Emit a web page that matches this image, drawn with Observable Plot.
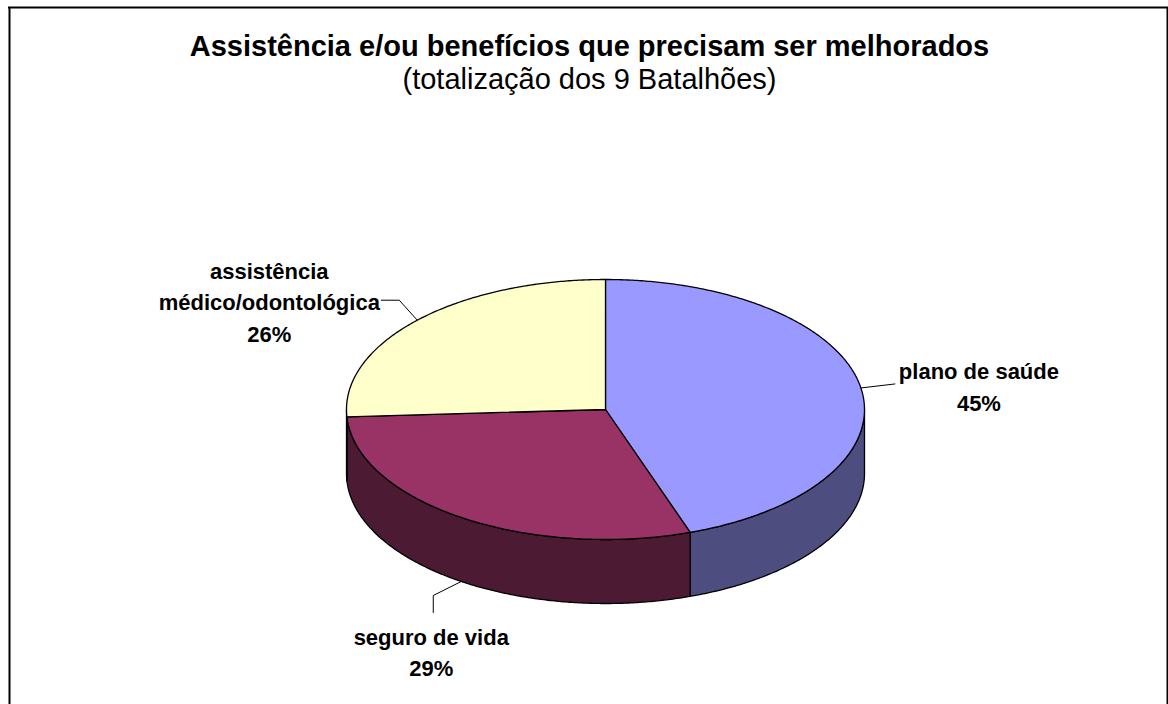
<!DOCTYPE html>
<html>
<head>
<meta charset="utf-8">
<script src="https://cdn.jsdelivr.net/npm/d3@7"></script>
<script src="https://cdn.jsdelivr.net/npm/@observablehq/plot@0.6"></script>
<style>
  html, body { margin: 0; padding: 0; background: #fff; }
  #chart svg { display: block; }
</style>
</head>
<body>
<div id="chart"></div>
<script>
// ---- data ----
const categories = ["plano de saúde", "seguro de vida", "assistência médico/odontológica"];
const values = [44.7, 29.4, 25.9];
const labelNames = ["plano de saúde", "seguro de vida", "assistência\nmédico/odontológica"];
const topColors = ["#9999FF", "#993366", "#FFFFCC"];
const sideColors = ["#4D4D80", "#4D1A33", "#808066"];
const titleText = "Assistência e/ou benefícios que precisam ser melhorados";
const subtitleText = "(totalização dos 9 Batalhões)";

// ---- layout ----
const W = 1168, H = 704;
const pie = {cx: 605, cy: 409, rx: 259, ry: 130, depth: 64};
// leader path offsets (from rim point at slice mid-angle) and label centre offsets
const labelLayout = [
  {leader: [[0, 0], [34, -4]], label: [118, -3]},
  {leader: [[0, 0], [-28, 14], [-28, 31]], label: [-30, 69]},
  {leader: [[0, 0], [-18, -20], [-36, -20]], label: [-148, -20]}
];
const font = "'Liberation Sans', Arial, Helvetica, sans-serif";

const total = d3.sum(values);
const px = a => pie.cx + pie.rx * Math.sin(a);
const py = a => pie.cy - pie.ry * Math.cos(a);
function arcPts(a0, a1, dy = 0) {
  const n = Math.max(2, Math.ceil((a1 - a0) / (Math.PI / 360)));
  return d3.range(n + 1).map(k => {
    const a = a0 + (a1 - a0) * k / n;
    return {x: px(a), y: py(a) + dy};
  });
}

let acc = 0;
const slices = values.map((v, i) => {
  const a0 = acc / total * 2 * Math.PI;
  acc += v;
  const a1 = acc / total * 2 * Math.PI;
  return {i, name: categories[i], value: v, a0, a1, mid: (a0 + a1) / 2};
});

const topPolys = [];
const sidePolys = [];
const leaders = [];
const labels = [];
for (const s of slices) {
  const c = {x: pie.cx, y: pie.cy};
  [c, ...arcPts(s.a0, s.a1), c].forEach(p => topPolys.push({...p, id: s.i, fill: topColors[s.i]}));
  const s0 = Math.max(s.a0, Math.PI / 2), s1 = Math.min(s.a1, 3 * Math.PI / 2);
  if (s1 > s0) {
    const upper = arcPts(s0, s1);
    const lower = arcPts(s0, s1, pie.depth).reverse();
    [...upper, ...lower, upper[0]].forEach(p => sidePolys.push({...p, id: s.i, fill: sideColors[s.i]}));
  }
  const front = Math.cos(s.mid) < 0;
  const rim = {x: px(s.mid), y: py(s.mid) + (front ? pie.depth : 0)};
  const L = labelLayout[s.i];
  L.leader.forEach(([dx, dy]) => leaders.push({x: rim.x + dx, y: rim.y + dy, id: s.i}));
  labels.push({
    x: rim.x + L.label[0], y: rim.y + L.label[1],
    text: labelNames[s.i] + "\n" + Math.round(s.value / total * 100) + "%"
  });
}

const chart = Plot.plot({
  width: W, height: H,
  margin: 0,
  x: {type: "linear", domain: [0, W], range: [0, W], axis: null},
  y: {type: "linear", domain: [0, H], range: [0, H], axis: null},
  style: {fontFamily: font, background: "#fff", overflow: "hidden"},
  marks: [
    // chart area border (bottom edge lies outside the picture)
    Plot.ruleX([9, 1167], {y1: 7, y2: H + 10, stroke: "#000", strokeWidth: 2}),
    Plot.ruleY([7], {x1: 8, x2: 1168, stroke: "#000", strokeWidth: 2}),
    // pie sides
    Plot.line(sidePolys, {x: "x", y: "y", z: "id", fill: "fill", stroke: "#000", strokeWidth: 1.3, strokeLinejoin: "round"}),
    // pie tops
    Plot.line(topPolys, {x: "x", y: "y", z: "id", fill: "fill", stroke: "#000", strokeWidth: 1.3, strokeLinejoin: "round"}),
    // leader lines
    Plot.line(leaders, {x: "x", y: "y", z: "id", stroke: "#000", strokeWidth: 1}),
    // data labels
    Plot.text(labels, {x: "x", y: "y", text: "text", fontSize: 22, fontWeight: "bold", fill: "#000",
      textAnchor: "middle", lineAnchor: "middle", lineHeight: 1.43, fontFamily: font}),
    // title + subtitle
    Plot.text([titleText], {frameAnchor: "top", dx: 5, dy: 55, lineAnchor: "bottom", fontSize: 29,
      fontWeight: "bold", fill: "#000", fontFamily: font}),
    Plot.text([subtitleText], {frameAnchor: "top", dx: 5, dy: 88, lineAnchor: "bottom", fontSize: 29,
      fill: "#000", fontFamily: font})
  ]
});
document.getElementById("chart").appendChild(chart);
</script>
</body>
</html>
